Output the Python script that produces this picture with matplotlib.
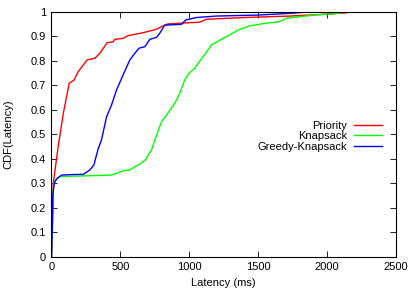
import matplotlib
matplotlib.use('Agg')
import matplotlib.pyplot as plt

plt.rcParams['font.family'] = ['Liberation Sans', 'DejaVu Sans']

# CDF curves (latency ms, cumulative fraction)
priority_x = [0, 5, 10, 13, 30, 49, 86, 129, 163, 194, 259, 315, 351, 404, 448, 460,
              520, 557, 665, 762, 810, 846, 1004, 1076, 1125, 1400, 1728, 1950, 2139, 2160]
priority_y = [0.0, 0.05, 0.2, 0.30, 0.37, 0.45, 0.585, 0.708, 0.72, 0.755, 0.803, 0.81, 0.83,
              0.873, 0.877, 0.887, 0.891, 0.902, 0.914, 0.928, 0.942, 0.95, 0.955, 0.957,
              0.969, 0.976, 0.982, 0.988, 0.995, 1.0]

knapsack_x = [0, 5, 10, 18, 30, 62, 200, 436, 484, 520, 569, 605, 641, 685, 702, 726,
              750, 799, 835, 895, 931, 967, 999, 1040, 1064, 1112, 1161, 1245, 1317, 1354,
              1438, 1559, 1656, 1704, 1922, 2042, 2113, 2150]
knapsack_y = [0.0, 0.1, 0.25, 0.30, 0.315, 0.327, 0.329, 0.333, 0.343, 0.351, 0.354, 0.367,
              0.378, 0.397, 0.415, 0.435, 0.476, 0.551, 0.578, 0.626, 0.667, 0.721, 0.749,
              0.769, 0.789, 0.825, 0.864, 0.891, 0.912, 0.925, 0.942, 0.953, 0.959, 0.973,
              0.987, 0.991, 0.996, 1.0]

greedy_x = [0, 5, 10, 18, 25, 42, 74, 150, 231, 279, 308, 327, 339, 363, 400, 436, 472,
            520, 569, 605, 636, 678, 714, 762, 786, 822, 943, 975, 1052, 1197, 1498, 1728,
            1822, 1850]
greedy_y = [0.0, 0.1, 0.25, 0.29, 0.306, 0.32, 0.333, 0.335, 0.336, 0.354, 0.374, 0.415,
            0.44, 0.476, 0.571, 0.619, 0.68, 0.742, 0.803, 0.83, 0.851, 0.857, 0.887, 0.895,
            0.912, 0.945, 0.948, 0.966, 0.976, 0.982, 0.986, 0.993, 0.997, 1.0]

fig = plt.figure(figsize=(4.15, 2.91), dpi=100)
ax = fig.add_axes([0.124, 0.118, 0.83, 0.842])

ax.plot(priority_x, priority_y, color='#ff0000', lw=1.0, label='Priority')
ax.plot(knapsack_x, knapsack_y, color='#00ff00', lw=1.0, label='Knapsack')
ax.plot(greedy_x, greedy_y, color='#0000ff', lw=1.0, label='Greedy-Knapsack')

ax.set_xlim(0, 2500)
ax.set_ylim(0, 1)
ax.set_xticks([0, 500, 1000, 1500, 2000, 2500])
ax.set_yticks([0, 0.1, 0.2, 0.3, 0.4, 0.5, 0.6, 0.7, 0.8, 0.9, 1])
ax.set_yticklabels(['0', '0.1', '0.2', '0.3', '0.4', '0.5', '0.6', '0.7', '0.8', '0.9', '1'])
ax.tick_params(direction='in', top=True, right=True, length=4, width=0.6,
               labelsize=8, pad=4)
for s in ax.spines.values():
    s.set_linewidth(0.8)

ax.set_xlabel('Latency (ms)', fontsize=8)
ax.set_ylabel('CDF(Latency)', fontsize=8)
ax.xaxis.set_label_coords(0.5, -0.087)
ax.yaxis.set_label_coords(-0.112, 0.5)

leg = ax.legend(loc='lower right', bbox_to_anchor=(0.975, 0.405), frameon=False,
                fontsize=8, markerfirst=False, handlelength=2.5, handletextpad=0.6,
                labelspacing=0.05, borderpad=0)
for t in leg.get_texts():
    t.set_ha('right')

fig.savefig('out.png', dpi=100)
